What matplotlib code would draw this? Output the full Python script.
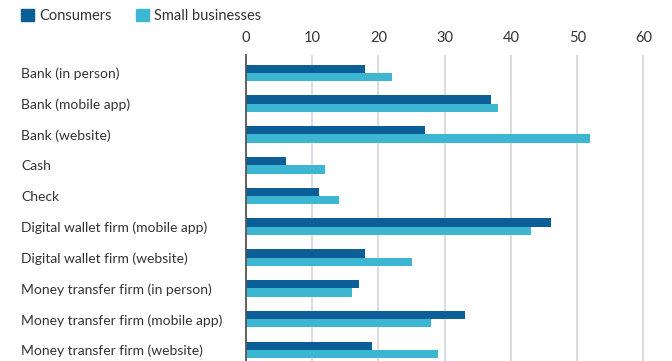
import numpy as np
import matplotlib
matplotlib.use('Agg')
import matplotlib.pyplot as plt
from matplotlib.patches import Patch
from matplotlib.transforms import blended_transform_factory

categories = ['Bank (in person)', 'Bank (mobile app)', 'Bank (website)', 'Cash', 'Check',
              'Digital wallet firm (mobile app)', 'Digital wallet firm (website)',
              'Money transfer firm (in person)', 'Money transfer firm (mobile app)',
              'Money transfer firm (website)']
consumers = [18, 37, 27, 6, 11, 46, 18, 17, 33, 19]
small_businesses = [22, 38, 52, 12, 14, 43, 25, 16, 28, 29]
x_ticks = [0, 10, 20, 30, 40, 50, 60]

dark = '#0b5f96'
light = '#3cb6d1'
text_color = '#333333'

plt.rcParams['font.family'] = ['Lato', 'DejaVu Sans']

fig = plt.figure(figsize=(6.72, 3.61), dpi=100)
ax = fig.add_axes([246 / 672, 0, 416 / 672, 306 / 361])

y = np.arange(len(categories))
h = 0.27
ax.barh(y - h / 2, consumers, height=h, color=dark, zorder=3)
ax.barh(y + h / 2, small_businesses, height=h, color=light, zorder=3)

ax.set_xlim(0, 62.8)
ax.set_ylim(len(categories) - 1 + 0.36, -0.58)
ax.set_xticks(x_ticks)
ax.xaxis.tick_top()
ax.tick_params(axis='x', length=0, pad=7, labelsize=10.5, labelcolor=text_color)
ax.tick_params(axis='y', length=0, pad=0)
ax.set_yticks([])

# category names sit left-aligned near the figure edge
label_trans = blended_transform_factory(fig.transFigure, ax.transData)
for yi, name in zip(y, categories):
    ax.text(21 / 672, yi + 0.04, name, transform=label_trans, ha='left', va='center',
            fontsize=10, color=text_color)

ax.grid(axis='x', color='#d4d4dc', linewidth=1.2, zorder=0)
for side in ['top', 'right', 'bottom']:
    ax.spines[side].set_visible(False)
ax.spines['left'].set_color('#555555')
ax.spines['left'].set_linewidth(1.3)
ax.spines['left'].set_zorder(4)

handles = [Patch(color=dark, label='Consumers'), Patch(color=light, label='Small businesses')]
fig.legend(handles=handles, loc='upper left', bbox_to_anchor=(12 / 672, 1.0), ncol=2,
           frameon=False, fontsize=10.5, handlelength=0.9, handleheight=0.9,
           handletextpad=0.4, columnspacing=1.6, labelcolor=text_color, borderaxespad=0.2)

fig.savefig('out.png', dpi=100)
